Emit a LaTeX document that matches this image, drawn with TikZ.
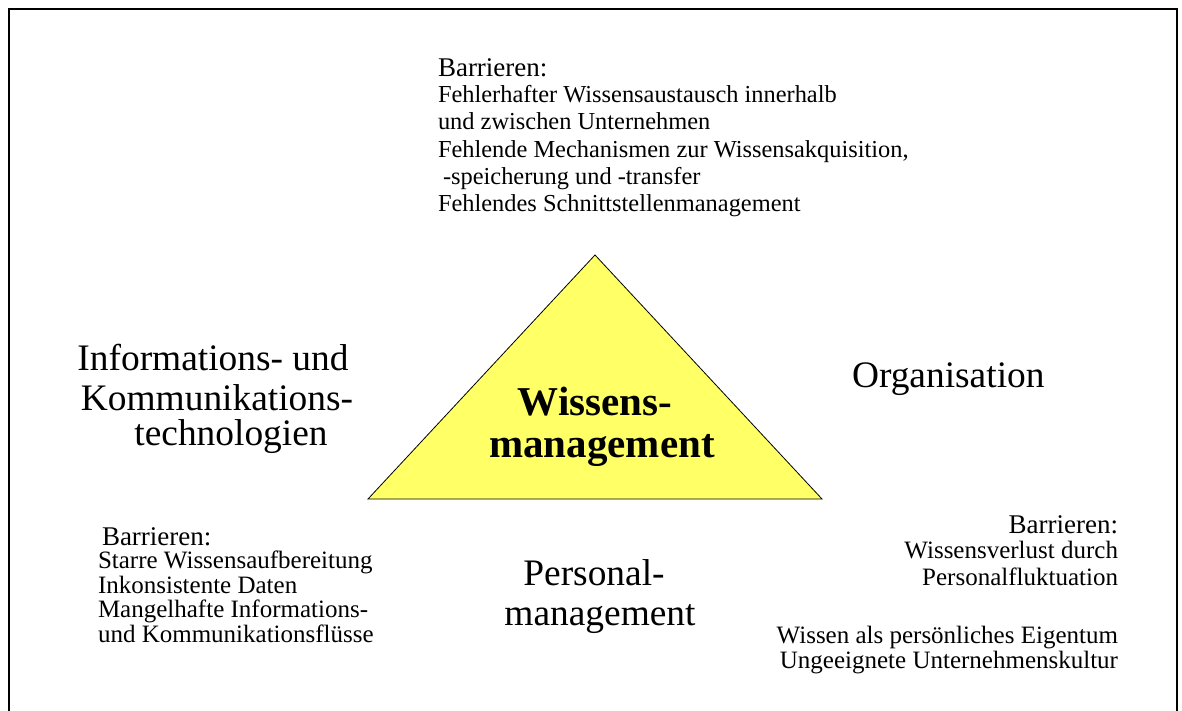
\documentclass[tikz,border=0pt]{standalone}
\usepackage{fontspec}
\setmainfont{Liberation Serif}
\definecolor{triyellow}{RGB}{255,255,102}
\begin{document}
\begin{tikzpicture}[x=1pt,y=-1pt,
  every node/.style={inner sep=0pt, outer sep=0pt},
  head/.style={font=\fontsize{27}{29}\selectfont},
  item/.style={font=\fontsize{24.4}{26}\selectfont},
  itemlow/.style={font=\fontsize{25}{27}\selectfont},
  big/.style={font=\fontsize{37.4}{39}\selectfont},
  core/.style={font=\bfseries\fontsize{41}{42}\selectfont}]
\useasboundingbox (0,0) rectangle (1182,711);
% outer frame, open at the lower edge of the page
\begin{scope}
  \clip (0,0) rectangle (1182,711);
  \draw[line width=2.2pt] (9,9) rectangle (1177,740);
\end{scope}
% central triangle
\filldraw[fill=triyellow, draw=black, line width=0.8pt]
  (595,255) -- (822,499) -- (368,499) -- cycle;
\node[core, anchor=base] (c1) at (595,415) {Wissens-};
\node[core, anchor=base] (c2) at (602,457) {management};
% barriers above the triangle
\node[head, anchor=base west] (t0) at (438,77) {Barrieren:};
\node[item, anchor=base west] (t1) at (438,103) {Fehlerhafter Wissensaustausch innerhalb};
\node[item, anchor=base west] (t2) at (438,130) {und zwischen Unternehmen};
\node[item, anchor=base west] (t3) at (438,158) {Fehlende Mechanismen zur Wissensakquisition,};
\node[item, anchor=base west] (t4) at (443,185) {-speicherung und -transfer};
\node[item, anchor=base west] (t5) at (438,212) {Fehlendes Schnittstellenmanagement};
% three corner fields
\node[big, anchor=base] (i1) at (213,370) {Informations- und};
\node[big, anchor=base] (i2) at (217,410) {Kommunikations-};
\node[big, anchor=base] (i3) at (231,445) {technologien};
\node[big, anchor=base west] (o1) at (852,387) {Organisation};
\node[big, anchor=base] (p1) at (594,585) {Personal-};
\node[big, anchor=base] (p2) at (600,625) {management};
% barriers lower left
\node[head, anchor=base west] (l0) at (102,545) {Barrieren:};
\node[itemlow, anchor=base west] (l1) at (98,568) {Starre Wissensaufbereitung};
\node[itemlow, anchor=base west] (l2) at (98,593) {Inkonsistente Daten};
\node[itemlow, anchor=base west] (l3) at (98,617) {Mangelhafte Informations-};
\node[itemlow, anchor=base west] (l4) at (98,642) {und Kommunikationsflüsse};
% barriers lower right
\node[head, anchor=base east] (r0) at (1118,533) {Barrieren:};
\node[itemlow, anchor=base east] (r1) at (1118,558) {Wissensverlust durch};
\node[itemlow, anchor=base east] (r2) at (1118,585) {Personalfluktuation};
\node[itemlow, anchor=base east] (r3) at (1118,643) {Wissen als persönliches Eigentum};
\node[itemlow, anchor=base east] (r4) at (1118,668) {Ungeeignete Unternehmenskultur};
\end{tikzpicture}
\end{document}
